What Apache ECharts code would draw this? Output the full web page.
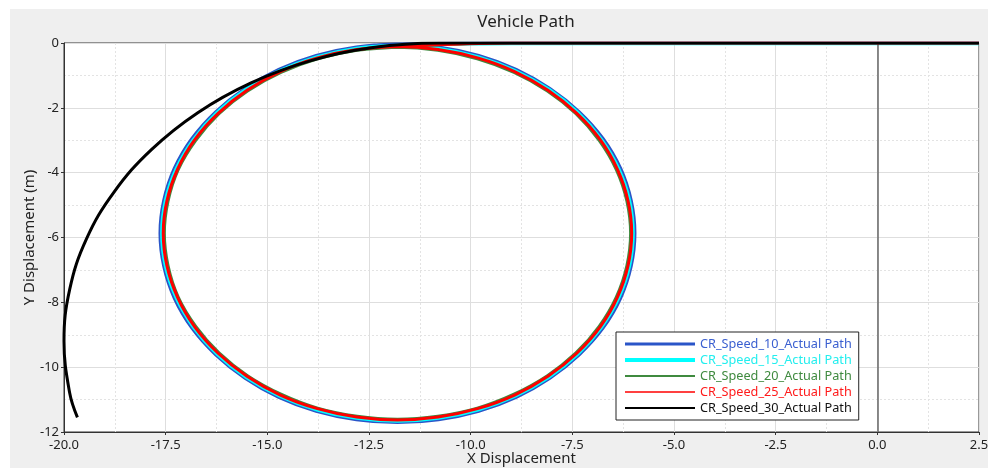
<!DOCTYPE html>
<html>
<head>
<meta charset="utf-8">
<script src="https://cdn.jsdelivr.net/npm/echarts@6/dist/echarts.min.js"></script>
<style>
  html, body { margin: 0; padding: 0; background: #ffffff; }
  #chart { position: absolute; left: 10px; top: 9px; width: 978px; height: 459px; }
</style>
</head>
<body>
<div id="chart"></div>
<script>
// Run names, in legend order
const runNames = [
  'CR_Speed_10_Actual Path',
  'CR_Speed_15_Actual Path',
  'CR_Speed_20_Actual Path',
  'CR_Speed_25_Actual Path',
  'CR_Speed_30_Actual Path'
];

// Axis ticks
const xTicks = { min: -20, max: 2.5, step: 2.5 };
const yTicks = { min: -12, max: 0, step: 2 };

// Path points [x, y] in metres for each run
const speed10Path = [
  [2.5, 0], [-4.0, 0], [-9.0, 0], [-10.4, -0.01],
  [-11.80, -0.03], [-12.81, -0.12], [-13.80, -0.38], [-14.72, -0.81], [-15.55, -1.40], [-16.27, -2.12],
  [-16.86, -2.95], [-17.29, -3.87], [-17.55, -4.86], [-17.64, -5.87], [-17.55, -6.88], [-17.29, -7.87],
  [-16.86, -8.79], [-16.27, -9.62], [-15.55, -10.34], [-14.72, -10.93], [-13.80, -11.36], [-12.81, -11.62],
  [-11.80, -11.71], [-10.79, -11.62], [-9.80, -11.36], [-8.88, -10.93], [-8.05, -10.34], [-7.33, -9.62],
  [-6.74, -8.79], [-6.31, -7.87], [-6.05, -6.88], [-5.96, -5.87], [-6.05, -4.86], [-6.31, -3.87],
  [-6.74, -2.95], [-7.33, -2.12], [-8.05, -1.40], [-8.88, -0.81], [-9.80, -0.38], [-10.79, -0.12],
  [-11.80, -0.03], [-12.81, -0.12]
];
const speed15Path = [
  [2.5, -0.02], [-4.0, -0.02], [-9.0, -0.02], [-10.4, -0.04],
  [-11.80, -0.07], [-12.81, -0.16], [-13.78, -0.42], [-14.70, -0.85], [-15.53, -1.43], [-16.24, -2.14],
  [-16.82, -2.97], [-17.25, -3.89], [-17.51, -4.86], [-17.60, -5.87], [-17.51, -6.88], [-17.25, -7.85],
  [-16.82, -8.77], [-16.24, -9.60], [-15.53, -10.31], [-14.70, -10.89], [-13.78, -11.32], [-12.81, -11.58],
  [-11.80, -11.67], [-10.79, -11.58], [-9.82, -11.32], [-8.90, -10.89], [-8.07, -10.31], [-7.36, -9.60],
  [-6.78, -8.77], [-6.35, -7.85], [-6.09, -6.88], [-6.00, -5.87], [-6.09, -4.86], [-6.35, -3.89],
  [-6.78, -2.97], [-7.36, -2.14], [-8.07, -1.43], [-8.90, -0.85], [-9.82, -0.42], [-10.79, -0.16],
  [-11.80, -0.07], [-12.81, -0.16]
];
const speed20Path = [
  [2.5, 0], [-4.0, 0], [-9.0, 0], [-10.4, -0.05],
  [-11.80, -0.15], [-12.79, -0.24], [-13.76, -0.50], [-14.66, -0.92], [-15.48, -1.49], [-16.18, -2.19],
  [-16.75, -3.01], [-17.18, -3.91], [-17.43, -4.88], [-17.52, -5.87], [-17.43, -6.86], [-17.18, -7.83],
  [-16.75, -8.73], [-16.18, -9.55], [-15.48, -10.25], [-14.66, -10.82], [-13.76, -11.25], [-12.79, -11.50],
  [-11.80, -11.59], [-10.81, -11.50], [-9.84, -11.25], [-8.94, -10.82], [-8.12, -10.25], [-7.42, -9.55],
  [-6.85, -8.73], [-6.43, -7.83], [-6.17, -6.86], [-6.08, -5.87], [-6.17, -4.88], [-6.43, -3.91],
  [-6.85, -3.01], [-7.42, -2.19], [-8.12, -1.49], [-8.94, -0.92], [-9.84, -0.50], [-10.81, -0.24],
  [-11.80, -0.15], [-12.79, -0.24]
];
const speed25Path = [
  [2.5, 0], [-4.0, 0], [-9.0, 0], [-10.4, -0.04],
  [-11.80, -0.11], [-12.80, -0.20], [-13.77, -0.46], [-14.68, -0.88], [-15.50, -1.46], [-16.21, -2.17],
  [-16.79, -2.99], [-17.21, -3.90], [-17.47, -4.87], [-17.56, -5.87], [-17.47, -6.87], [-17.21, -7.84],
  [-16.79, -8.75], [-16.21, -9.57], [-15.50, -10.28], [-14.68, -10.86], [-13.77, -11.28], [-12.80, -11.54],
  [-11.80, -11.63], [-10.80, -11.54], [-9.83, -11.28], [-8.92, -10.86], [-8.10, -10.28], [-7.39, -9.57],
  [-6.81, -8.75], [-6.39, -7.84], [-6.13, -6.87], [-6.04, -5.87], [-6.13, -4.87], [-6.39, -3.90],
  [-6.81, -2.99], [-7.39, -2.17], [-8.10, -1.46], [-8.92, -0.88], [-9.83, -0.46], [-10.80, -0.20],
  [-11.80, -0.11], [-12.80, -0.20]
];
const speed30Path = [
  [2.5, 0], [-4.0, 0], [-9.0, 0], [-10.8, 0],
  [-12.40, -0.14], [-13.95, -0.55], [-15.40, -1.23], [-16.71, -2.15], [-17.85, -3.29],
  [-18.77, -4.60], [-19.45, -6.05], [-19.86, -7.60], [-20.00, -9.20], [-19.86, -10.80],
  [-19.67, -11.55]
];

const paths = [speed10Path, speed15Path, speed20Path, speed25Path, speed30Path];
const lineColors = ['#2a55c8', '#00ffff', '#3f8a3f', '#ff0000', '#000000'];
const textColors = ['#3a5fd0', '#22eeee', '#3f8a3f', '#ff1a1a', '#111111'];
const plotWidths = [3, 3, 2, 3, 3];
const legendWidths = [3, 4, 2, 1.5, 2];

const FONT = '"Noto Sans", "Open Sans", sans-serif';
const chart = echarts.init(document.getElementById('chart'), null, { renderer: 'canvas' });

const series = runNames.map((name, i) => {
  const s = {
    name: name,
    type: 'line',
    data: paths[i],
    smooth: 0.4,
    symbol: 'none',
    showSymbol: false,
    clip: true,
    lineStyle: { color: lineColors[i], width: plotWidths[i] },
    itemStyle: { color: lineColors[i] },
    emphasis: { disabled: true },
    z: 3 + i
  };
  if (i === 0) {
    s.markLine = {
      silent: true,
      symbol: ['none', 'none'],
      label: { show: false },
      lineStyle: { color: '#666666', width: 1.5, type: 'solid' },
      data: [{ xAxis: 0 }]
    };
  }
  return s;
});

chart.setOption({
  animation: false,
  backgroundColor: '#efefef',
  textStyle: { fontFamily: FONT },
  title: {
    text: 'Vehicle Path',
    left: 511,
    top: 0,
    textAlign: 'center',
    textStyle: { fontSize: 17, fontWeight: 'normal', color: '#222', fontFamily: FONT }
  },
  grid: {
    left: 54, top: 34, right: 9, bottom: 36,
    show: true, backgroundColor: '#ffffff', borderColor: '#333', borderWidth: 1,
    containLabel: false,
    outerBoundsMode: 'none'
  },
  legend: {
    orient: 'vertical',
    left: 606, top: 323,
    backgroundColor: '#ffffff',
    borderColor: '#222', borderWidth: 1, borderRadius: 0,
    padding: [5, 7, 5, 7],
    itemWidth: 70, itemHeight: 14, itemGap: 2,
    selectedMode: false,
    textStyle: { fontSize: 12.7, fontFamily: FONT, lineHeight: 14 },
    data: runNames.map((name, i) => ({
      name: name,
      itemStyle: { opacity: 0 },
      lineStyle: { color: lineColors[i], width: legendWidths[i], opacity: 1 },
      textStyle: { color: textColors[i] }
    }))
  },
  xAxis: {
    type: 'value',
    min: xTicks.min, max: xTicks.max, interval: xTicks.step,
    name: 'X Displacement', nameLocation: 'middle', nameGap: 19,
    nameMoveOverlap: false,
    nameTextStyle: { fontSize: 15, color: '#222', fontFamily: FONT },
    axisLine: { show: true, onZero: false, lineStyle: { color: '#333', width: 1 } },
    axisTick: { show: true, length: 3, lineStyle: { color: '#333' } },
    axisLabel: { fontSize: 13, color: '#222', margin: 7, fontFamily: FONT,
      formatter: v => v.toFixed(1) },
    splitLine: { show: true, lineStyle: { color: '#dedede', width: 1 } },
    minorTick: { show: false, splitNumber: 2 },
    minorSplitLine: { show: true, lineStyle: { color: '#e3e3e3', type: [2, 2], width: 1 } }
  },
  yAxis: {
    type: 'value',
    min: yTicks.min, max: yTicks.max, interval: yTicks.step,
    name: 'Y Displacement (m)', nameLocation: 'middle', nameGap: 27,
    nameMoveOverlap: false,
    nameTextStyle: { fontSize: 15, color: '#222', fontFamily: FONT },
    axisLine: { show: true, onZero: false, lineStyle: { color: '#333', width: 1 } },
    axisTick: { show: true, length: 3, lineStyle: { color: '#333' } },
    axisLabel: { fontSize: 13, color: '#222', margin: 5, fontFamily: FONT },
    splitLine: { show: true, lineStyle: { color: '#dedede', width: 1 } },
    minorTick: { show: false, splitNumber: 2 },
    minorSplitLine: { show: true, lineStyle: { color: '#e3e3e3', type: [2, 2], width: 1 } }
  },
  series: series
});
</script>
</body>
</html>
